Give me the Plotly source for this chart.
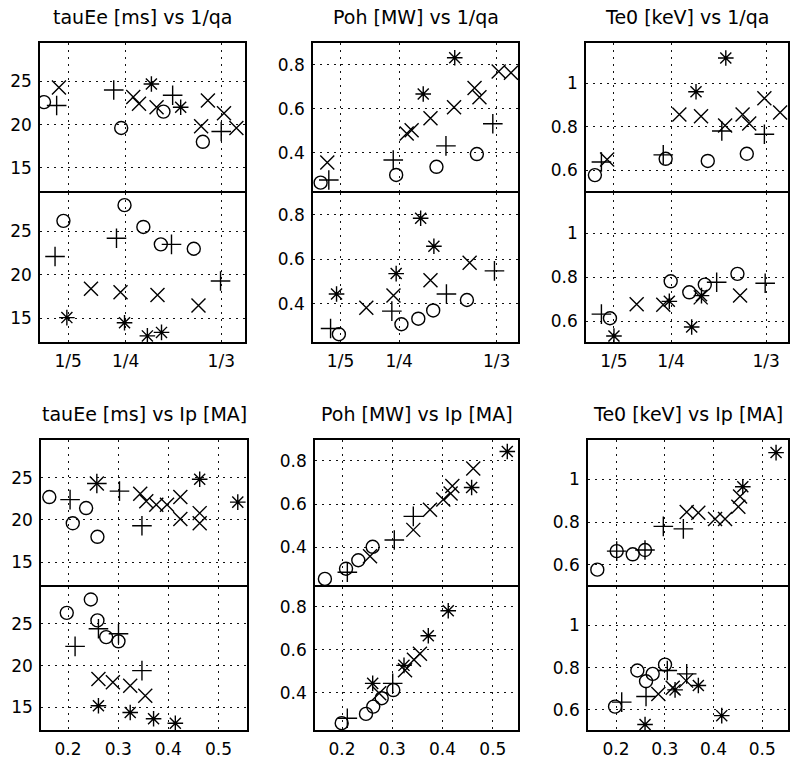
import plotly.graph_objects as go

W, H = 790, 764

# ---------------- data: (x, y) per marker type, per panel half ----------------
# tauEe [ms] vs 1/qa
tq_up_o_x = [0.179, 0.2462, 0.283, 0.3173]
tq_up_o_y = [22.6, 19.6, 21.5, 18.0]
tq_up_p_x = [0.190, 0.2397, 0.291, 0.3333]
tq_up_p_y = [22.2, 24.0, 23.4, 19.2]
tq_up_x_x = [0.192, 0.2567, 0.2617, 0.277, 0.3217, 0.3357, 0.3158, 0.3465]
tq_up_x_y = [24.3, 23.2, 22.4, 22.0, 22.8, 21.3, 19.8, 19.6]
tq_up_s_x = [0.2725, 0.298]
tq_up_s_y = [24.7, 22.0]

tq_lo_o_x = [0.1959, 0.2491, 0.2655, 0.2807, 0.3094]
tq_lo_o_y = [26.2, 28.0, 25.5, 23.5, 23.0]
tq_lo_p_x = [0.1886, 0.2421, 0.29, 0.3327]
tq_lo_p_y = [22.1, 24.2, 23.5, 19.3]
tq_lo_x_x = [0.2199, 0.2456, 0.2778, 0.3135]
tq_lo_x_y = [18.4, 18.0, 17.7, 16.5]
tq_lo_s_x = [0.1989, 0.2491, 0.269, 0.2813]
tq_lo_s_y = [15.1, 14.5, 13.0, 13.4]

# Poh [MW] vs 1/qa
pq_up_o_x = [0.183, 0.2475, 0.2819, 0.3164]
pq_up_o_y = [0.265, 0.30, 0.337, 0.395]
pq_up_p_x = [0.190, 0.245, 0.29, 0.33]
pq_up_p_y = [0.277, 0.368, 0.432, 0.533]
pq_up_x_x = [0.1887, 0.2565, 0.2607, 0.2768, 0.2969, 0.3144, 0.3186, 0.335, 0.3455]
pq_up_x_y = [0.357, 0.488, 0.503, 0.558, 0.608, 0.695, 0.653, 0.77, 0.765]
pq_up_s_x = [0.2706, 0.2975]
pq_up_s_y = [0.668, 0.833]

pq_lo_o_x = [0.1986, 0.252, 0.2664, 0.2791, 0.3079]
pq_lo_o_y = [0.262, 0.307, 0.332, 0.369, 0.416]
pq_lo_p_x = [0.1915, 0.2438, 0.2904, 0.3314]
pq_lo_p_y = [0.288, 0.366, 0.443, 0.547]
pq_lo_x_x = [0.222, 0.2452, 0.2768, 0.3102]
pq_lo_x_y = [0.381, 0.436, 0.505, 0.584]
pq_lo_s_x = [0.1966, 0.2475, 0.2684, 0.2797]
pq_lo_s_y = [0.443, 0.535, 0.784, 0.658]

# Te0 [keV] vs 1/qa
eq_up_o_x = [0.1833, 0.2453, 0.2822, 0.3164]
eq_up_o_y = [0.578, 0.653, 0.643, 0.676]
eq_up_p_x = [0.189, 0.2432, 0.2945, 0.3318]
eq_up_p_y = [0.638, 0.671, 0.781, 0.766]
eq_up_x_x = [0.194, 0.2573, 0.2763, 0.2974, 0.3127, 0.3185, 0.3318, 0.3456]
eq_up_x_y = [0.65, 0.856, 0.848, 0.806, 0.856, 0.815, 0.931, 0.866]
eq_up_s_x = [0.2719, 0.298]
eq_up_s_y = [0.961, 1.116]

eq_lo_o_x = [0.1965, 0.2497, 0.266, 0.2796, 0.3082]
eq_lo_o_y = [0.613, 0.781, 0.731, 0.766, 0.815]
eq_lo_p_x = [0.189, 0.29, 0.3325]
eq_lo_p_y = [0.632, 0.777, 0.772]
eq_lo_x_x = [0.2199, 0.2432, 0.276, 0.3105]
eq_lo_x_y = [0.677, 0.674, 0.708, 0.716]
eq_lo_s_x = [0.2, 0.2485, 0.2681, 0.2767]
eq_lo_s_y = [0.532, 0.69, 0.573, 0.716]

# tauEe [ms] vs Ip [MA]
ti_up_o_x = [0.1626, 0.2094, 0.236, 0.2586]
ti_up_o_y = [22.7, 19.6, 21.4, 18.0]
ti_up_p_x = [0.204, 0.2574, 0.3026, 0.3474]
ti_up_p_y = [22.4, 24.3, 23.4, 19.3]
ti_up_x_x = [0.2574, 0.344, 0.356, 0.376, 0.3974, 0.424, 0.424, 0.4626, 0.4626]
ti_up_x_y = [24.3, 23.1, 22.2, 21.8, 21.8, 22.7, 20.1, 20.8, 19.6]
ti_up_s_x = [0.4626, 0.5386]
ti_up_s_y = [24.8, 22.1]

ti_lo_o_x = [0.1974, 0.2454, 0.2586, 0.276, 0.3006]
ti_lo_o_y = [26.3, 27.9, 25.4, 23.4, 22.9]
ti_lo_p_x = [0.214, 0.2606, 0.3006, 0.3474]
ti_lo_p_y = [22.3, 24.4, 23.8, 19.4]
ti_lo_x_x = [0.2606, 0.2894, 0.324, 0.354]
ti_lo_x_y = [18.4, 18.0, 17.6, 16.4]
ti_lo_s_x = [0.2606, 0.324, 0.3706, 0.414]
ti_lo_s_y = [15.2, 14.4, 13.65, 13.1]

# Poh [MW] vs Ip [MA]
pi_up_o_x = [0.166, 0.208, 0.2324, 0.261]
pi_up_o_y = [0.255, 0.302, 0.341, 0.403]
pi_up_p_x = [0.2106, 0.304, 0.3418]
pi_up_p_y = [0.286, 0.434, 0.543]
pi_up_x_x = [0.2557, 0.3418, 0.375, 0.4014, 0.4194, 0.416, 0.461]
pi_up_x_y = [0.359, 0.481, 0.574, 0.621, 0.683, 0.649, 0.764]
pi_up_s_x = [0.4578, 0.5287]
pi_up_s_y = [0.676, 0.842]

pi_lo_o_x = [0.1994, 0.2477, 0.2622, 0.279, 0.302]
pi_lo_o_y = [0.259, 0.302, 0.336, 0.375, 0.413]
pi_lo_p_x = [0.2106, 0.3008]
pi_lo_p_y = [0.282, 0.444]
pi_lo_x_x = [0.274, 0.3253, 0.3431, 0.355]
pi_lo_x_y = [0.398, 0.505, 0.554, 0.582]
pi_lo_s_x = [0.261, 0.3233, 0.3716, 0.4113]
pi_lo_s_y = [0.444, 0.528, 0.666, 0.782]

# Te0 [keV] vs Ip [MA]
ei_up_o_x = [0.1616, 0.2014, 0.2343, 0.2595]
ei_up_o_y = [0.577, 0.664, 0.649, 0.669]
ei_up_p_x = [0.2014, 0.2595, 0.2971, 0.3382]
ei_up_p_y = [0.664, 0.669, 0.78, 0.768]
ei_up_x_x = [0.3451, 0.3689, 0.4033, 0.4238, 0.4511, 0.4546]
ei_up_x_y = [0.847, 0.844, 0.814, 0.814, 0.872, 0.92]
ei_up_s_x = [0.4602, 0.5285]
ei_up_s_y = [0.966, 1.126]

ei_lo_o_x = [0.198, 0.2438, 0.2616, 0.2753, 0.3006]
ei_lo_o_y = [0.616, 0.787, 0.736, 0.771, 0.815]
ei_lo_p_x = [0.2117, 0.2616, 0.3053, 0.3451]
ei_lo_p_y = [0.637, 0.664, 0.787, 0.771]
ei_lo_x_x = [0.2869, 0.3164, 0.3437]
ei_lo_x_y = [0.676, 0.705, 0.739]
ei_lo_s_x = [0.2596, 0.3212, 0.369, 0.417]
ei_lo_s_y = [0.531, 0.695, 0.716, 0.573]

# tick labels
qa_tickvals = [1 / 5, 1 / 4, 1 / 3]
qa_ticktext = ["1/5", "1/4", "1/3"]
ip_tickvals = [0.2, 0.3, 0.4, 0.5]
ip_ticktext = ["0.2", "0.3", "0.4", "0.5"]
tau_ticks = [15, 20, 25]
tau_text = ["15", "20", "25"]
poh_ticks = [0.4, 0.6, 0.8]
poh_text = ["0.4", "0.6", "0.8"]
te_ticks = [0.6, 0.8, 1.0]
te_text = ["0.6", "0.8", "1"]

titles = ["tauEe [ms] vs 1/qa", "Poh [MW] vs 1/qa", "Te0 [keV] vs 1/qa",
          "tauEe [ms] vs Ip [MA]", "Poh [MW] vs Ip [MA]", "Te0 [keV] vs Ip [MA]"]

LW = 1.5  # frame line width

# ---------------- layout helpers (pixel boxes -> paper fractions) ----------------
def px_x(a, b):
    return [a / W, b / W]

def px_y(top, bottom):
    return [1 - bottom / H, 1 - top / H]

# each panel: column pixel box, upper/lower pixel boxes, axis ranges, ticks, series
# (the lower box starts one frame width lower so the shared divider is drawn once)
panels = [
    dict(xd=(40, 245), up=(43, 191), lo=(191 + LW, 342), xr=[0.1755, 0.354], yr=[12.3, 29.45],
         xt=(qa_tickvals, qa_ticktext), yt=(tau_ticks, tau_text),
         upper=[(tq_up_o_x, tq_up_o_y), (tq_up_p_x, tq_up_p_y), (tq_up_x_x, tq_up_x_y), (tq_up_s_x, tq_up_s_y)],
         lower=[(tq_lo_o_x, tq_lo_o_y), (tq_lo_p_x, tq_lo_p_y), (tq_lo_x_x, tq_lo_x_y), (tq_lo_s_x, tq_lo_s_y)]),
    dict(xd=(313, 518), up=(43, 191), lo=(191 + LW, 342), xr=[0.1765, 0.3515], yr=[0.227, 0.9],
         xt=(qa_tickvals, qa_ticktext), yt=(poh_ticks, poh_text),
         upper=[(pq_up_o_x, pq_up_o_y), (pq_up_p_x, pq_up_p_y), (pq_up_x_x, pq_up_x_y), (pq_up_s_x, pq_up_s_y)],
         lower=[(pq_lo_o_x, pq_lo_o_y), (pq_lo_p_x, pq_lo_p_y), (pq_lo_x_x, pq_lo_x_y), (pq_lo_s_x, pq_lo_s_y)]),
    dict(xd=(586, 788), up=(43, 191), lo=(191 + LW, 342), xr=[0.1755, 0.3525], yr=[0.505, 1.185],
         xt=(qa_tickvals, qa_ticktext), yt=(te_ticks, te_text),
         upper=[(eq_up_o_x, eq_up_o_y), (eq_up_p_x, eq_up_p_y), (eq_up_x_x, eq_up_x_y), (eq_up_s_x, eq_up_s_y)],
         lower=[(eq_lo_o_x, eq_lo_o_y), (eq_lo_p_x, eq_lo_p_y), (eq_lo_x_x, eq_lo_x_y), (eq_lo_s_x, eq_lo_s_y)]),
    dict(xd=(41, 247), up=(440, 585), lo=(585 + LW, 730), xr=[0.146, 0.557], yr=[12.3, 29.45],
         xt=(ip_tickvals, ip_ticktext), yt=(tau_ticks, tau_text),
         upper=[(ti_up_o_x, ti_up_o_y), (ti_up_p_x, ti_up_p_y), (ti_up_x_x, ti_up_x_y), (ti_up_s_x, ti_up_s_y)],
         lower=[(ti_lo_o_x, ti_lo_o_y), (ti_lo_p_x, ti_lo_p_y), (ti_lo_x_x, ti_lo_x_y), (ti_lo_s_x, ti_lo_s_y)]),
    dict(xd=(315, 518), up=(440, 585), lo=(585 + LW, 730), xr=[0.1463, 0.55], yr=[0.227, 0.895],
         xt=(ip_tickvals, ip_ticktext), yt=(poh_ticks, poh_text),
         upper=[(pi_up_o_x, pi_up_o_y), (pi_up_p_x, pi_up_p_y), (pi_up_x_x, pi_up_x_y), (pi_up_s_x, pi_up_s_y)],
         lower=[(pi_lo_o_x, pi_lo_o_y), (pi_lo_p_x, pi_lo_p_y), (pi_lo_x_x, pi_lo_x_y), (pi_lo_s_x, pi_lo_s_y)]),
    dict(xd=(588, 788), up=(440, 585), lo=(585 + LW, 730), xr=[0.1425, 0.553], yr=[0.505, 1.185],
         xt=(ip_tickvals, ip_ticktext), yt=(te_ticks, te_text),
         upper=[(ei_up_o_x, ei_up_o_y), (ei_up_p_x, ei_up_p_y), (ei_up_x_x, ei_up_x_y), (ei_up_s_x, ei_up_s_y)],
         lower=[(ei_lo_o_x, ei_lo_o_y), (ei_lo_p_x, ei_lo_p_y), (ei_lo_x_x, ei_lo_x_y), (ei_lo_s_x, ei_lo_s_y)]),
]

# marker style per series: circle, plus, cross, star
symbols = [("circle-open", 13), ("cross-thin-open", 14), ("x-thin-open", 14), ("asterisk-open", 13)]

FONT = "DejaVu Sans"
TICK_FONT = dict(family=FONT, size=17, color="black")

fig = go.Figure()
layout = dict(width=W, height=H, margin=dict(l=0, r=0, t=0, b=0),
              paper_bgcolor="white", plot_bgcolor="white", showlegend=False)

annotations = []
n = 0
for p in panels:
    for half in ("upper", "lower"):
        n += 1
        xa = "xaxis" if n == 1 else f"xaxis{n}"
        ya = "yaxis" if n == 1 else f"yaxis{n}"
        xref = "x" if n == 1 else f"x{n}"
        yref = "y" if n == 1 else f"y{n}"
        box = p["up"] if half == "upper" else p["lo"]
        common = dict(showline=True, mirror=True, linecolor="black", linewidth=LW,
                      showgrid=True, gridcolor="#111", gridwidth=1.4, griddash="2px,5px",
                      zeroline=False, ticks="", tickfont=TICK_FONT, fixedrange=True)
        layout[xa] = dict(common, domain=px_x(*p["xd"]), range=p["xr"], anchor=yref,
                          tickmode="array", tickvals=p["xt"][0], ticktext=p["xt"][1],
                          showticklabels=(half == "lower"), ticklabelstandoff=3)
        layout[ya] = dict(common, domain=px_y(*box), range=p["yr"], anchor=xref,
                          tickmode="array", tickvals=p["yt"][0], ticktext=p["yt"][1],
                          ticklabelstandoff=3)
        for (xs, ys), (sym, size) in zip(p[half], symbols):
            fig.add_trace(go.Scatter(
                x=xs, y=ys, mode="markers", xaxis=xref, yaxis=yref,
                marker=dict(symbol=sym, size=size, color="black",
                            line=dict(color="black", width=1.4)),
                hoverinfo="x+y"))

for p, title in zip(panels, titles):
    cx = (p["xd"][0] + p["xd"][1]) / 2 / W
    cy = 1 - (p["up"][0] - 26) / H
    annotations.append(dict(text=title, x=cx, y=cy, xref="paper", yref="paper",
                            xanchor="center", yanchor="middle", showarrow=False,
                            font=dict(family=FONT, size=19, color="black")))

layout["annotations"] = annotations
fig.update_layout(**layout)
fig.write_html("out.html")
